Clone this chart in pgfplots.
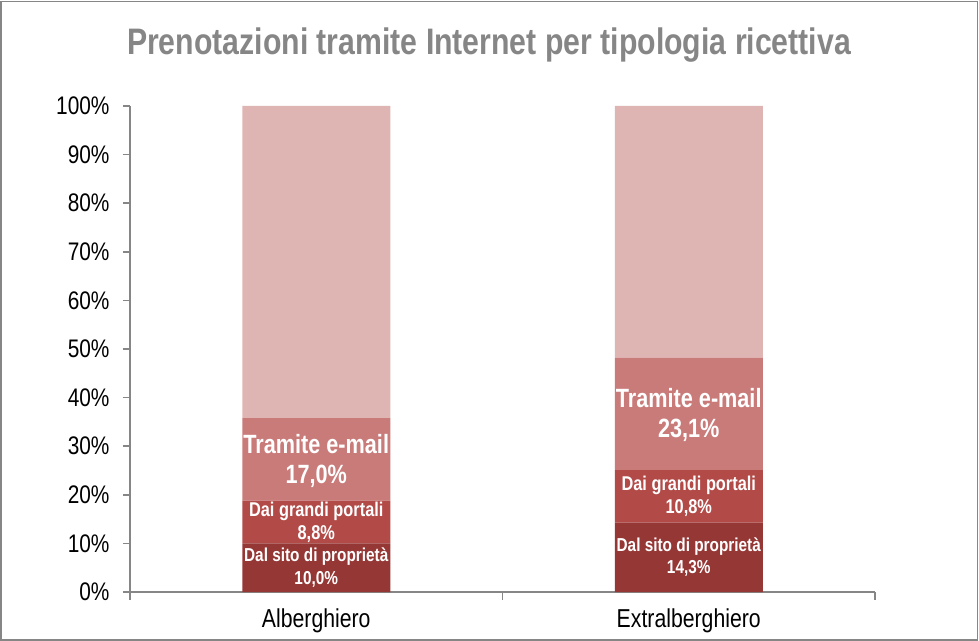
\documentclass[border=0pt]{standalone}
\usepackage{pgfplots}
\pgfplotsset{compat=1.18}
\usepackage{fontspec}
\setmainfont{Liberation Sans}[FakeStretch=0.82]
\definecolor{c1}{HTML}{953735}
\definecolor{c2}{HTML}{B24A47}
\definecolor{c3}{HTML}{C97B7A}
\definecolor{c4}{HTML}{DFB5B4}
\definecolor{ax}{HTML}{868686}
\begin{document}
\begin{tikzpicture}[
  lab/.style={text=white,font=\bfseries\fontsize{20}{23}\selectfont,align=center,inner sep=0pt},
  labs/.style={text=white,font=\bfseries\fontsize{18.8}{22.5}\selectfont,align=center,inner sep=0pt},
  labbig/.style={text=white,font=\bfseries\fontsize{26.5}{30}\selectfont,align=center,inner sep=0pt}]
\useasboundingbox (0bp,0bp) rectangle (979bp,641bp);
\draw[ax,line width=1.5bp] (1bp,1bp) rectangle (977.5bp,639.5bp);
\node[text=ax,font=\bfseries\fontsize{37}{40}\selectfont] at (489bp,596bp) {Prenotazioni tramite Internet per tipologia ricettiva};
\begin{axis}[
  at={(130bp,49bp)}, anchor=south west,
  scale only axis, width=745bp, height=486bp,
  ybar stacked, bar width=148bp,
  xmin=-0.5, xmax=1.5, ymin=0, ymax=100,
  xtick={0,1}, xticklabels={Alberghiero,Extralberghiero},
  major x tick style={draw=none},
  minor xtick={-0.5,0.5,1.5},
  minor x tick style={ax,line width=1.5bp},
  minor tick length=8bp,
  ytick={0,10,...,100},
  yticklabel={\pgfmathprintnumber{\tick}\%},
  /pgf/number format/assume math mode=true,
  major tick length=7bp,
  tick align=outside,
  y tick style={ax,line width=1.5bp},
  xtick pos=bottom, ytick pos=left,
  axis x line*=bottom, axis y line*=left,
  x axis line style={ax,line width=1.5bp,-},
  y axis line style={ax,line width=1.5bp,-},
  yticklabel style={font=\fontsize{25.5}{28}\selectfont, xshift=-10bp},
  xticklabel style={font=\fontsize{26}{28}\selectfont, yshift=-6bp},
  clip=false,
]
\addplot[fill=c1,draw=none] coordinates {(0,10.0) (1,14.3)};
\addplot[fill=c2,draw=none] coordinates {(0,8.8) (1,10.8)};
\addplot[fill=c3,draw=none] coordinates {(0,17.0) (1,23.1)};
\addplot[fill=c4,draw=none] coordinates {(0,64.2) (1,51.8)};
\coordinate (a1) at (axis cs:0,5.0);
\coordinate (a2) at (axis cs:0,14.4);
\coordinate (a3) at (axis cs:0,27.0);
\coordinate (b1) at (axis cs:1,7.15);
\coordinate (b2) at (axis cs:1,19.7);
\coordinate (b3) at (axis cs:1,36.4);
\end{axis}
\node[labs] at (a1) {Dal sito di propriet\`a\\10,0\%};
\node[lab] at (a2) {Dai grandi portali\\8,8\%};
\node[labbig] at (a3) {Tramite e-mail\\17,0\%};
\node[labs] at (b1) {Dal sito di propriet\`a\\14,3\%};
\node[lab] at (b2) {Dai grandi portali\\10,8\%};
\node[labbig] at (b3) {Tramite e-mail\\23,1\%};
\end{tikzpicture}
\end{document}
